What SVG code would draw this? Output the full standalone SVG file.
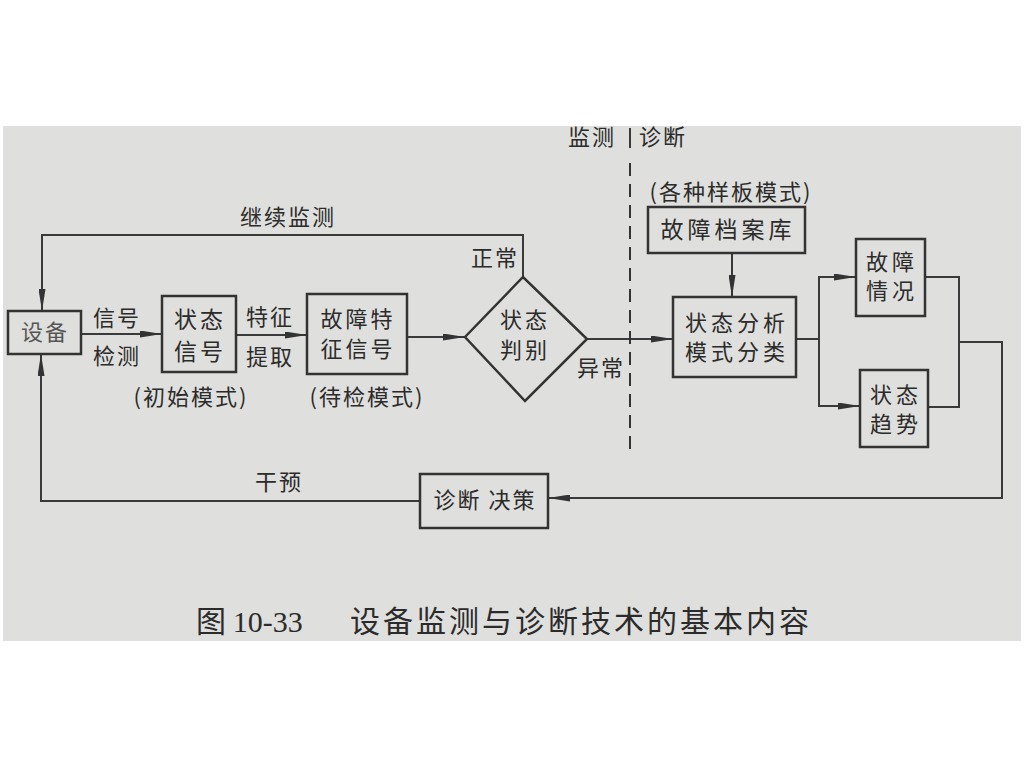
<svg xmlns="http://www.w3.org/2000/svg" width="1024" height="768" viewBox="0 0 1024 768">
<defs>
<marker id="arr" markerUnits="userSpaceOnUse" markerWidth="22" markerHeight="7" refX="22" refY="3.5" orient="auto">
<path d="M0,0 L22,3.5 L0,7 z" fill="#333"/>
</marker>
<style>
.bg{fill:#dfdfdd}
.box{fill:none;stroke:#333;stroke-width:2.5}
.ln{fill:none;stroke:#3a3a3a;stroke-width:2}
.ar{marker-end:url(#arr)}
.dash{fill:none;stroke:#333;stroke-width:2;stroke-dasharray:13 8}
text{font-family:"Noto Sans CJK SC","Noto Sans CJK JP",sans-serif;fill:#2b2b2b;text-anchor:middle}
.t{font-size:22px;letter-spacing:2px}
.tb{font-size:23px;letter-spacing:3px}
.ts{font-size:22px;letter-spacing:4px}
.lab{font-size:22px;letter-spacing:2px}
.cap{font-size:30px;text-anchor:start}
</style>
</defs>
<rect x="0" y="0" width="1024" height="768" fill="#ffffff"/>
<rect class="bg" x="3" y="126" width="1018" height="515"/>

<g id="connectors">
<path class="ln ar" d="M81,334 L162,334"/>
<path class="ln ar" d="M236,335 L307,335"/>
<path class="ln ar" d="M407,337 L465,337"/>
<path class="ln ar" d="M523,277 L523,235 L42,235 L42,311"/>
<path class="ln ar" d="M587,339 L673,339"/>
<path class="ln ar" d="M732,253 L732,297"/>
<path class="ln ar" d="M796,339 L819,339 L819,277 L856,277"/>
<path class="ln ar" d="M819,339 L819,406 L860,406"/>
<path class="ln" d="M925,277 L959,277 L959,407 L928,407"/>
<path class="ln ar" d="M959,342 L1002,342 L1002,498 L548,498"/>
<path class="ln ar" d="M420,501 L41,501 L41,354"/>
</g>

<g id="divider">
<line class="ln" x1="630" y1="128" x2="630" y2="148"/>
<line class="dash" x1="630" y1="163" x2="630" y2="456"/>
<text class="lab" x="592" y="145">监测</text>
<text class="lab" x="663" y="145">诊断</text>
</g>

<g id="node-shebei">
<rect class="box" x="8" y="311" width="73" height="43"/>
<text class="t" x="45" y="340" style="fill:#555">设备</text>
</g>
<text class="lab" x="117" y="326">信号<tspan x="117" y="364">检测</tspan></text>

<g id="node-zhuangtaixinhao">
<rect class="box" x="162" y="296" width="74" height="76"/>
<text class="tb" x="200" y="328">状态<tspan x="200" y="360">信号</tspan></text>
<text class="lab" x="191" y="405">(初始模式)</text>
</g>
<text class="lab" x="270" y="325">特征<tspan x="270" y="365">提取</tspan></text>

<g id="node-guzhangtezheng">
<rect class="box" x="307" y="294" width="100" height="80"/>
<text class="ts" x="358" y="327" style="letter-spacing:3px">故障特<tspan x="358" y="357">征信号</tspan></text>
<text class="lab" x="367" y="405">(待检模式)</text>
</g>

<g id="node-panbie">
<polygon class="box" points="465,337 523,277 587,339 525,401"/>
<text class="ts" x="525" y="328" style="letter-spacing:3px">状态<tspan x="525" y="358">判别</tspan></text>
</g>
<text class="lab" x="495" y="266">正常</text>
<text class="lab" x="601" y="376">异常</text>
<text class="lab" x="288" y="225">继续监测</text>

<g id="node-dangan">
<text class="lab" x="731" y="200">(各种样板模式)</text>
<rect class="box" x="648" y="207" width="157" height="46"/>
<text class="tb" x="728" y="238" style="letter-spacing:4px">故障档案库</text>
</g>

<g id="node-fenxi">
<rect class="box" x="673" y="297" width="123" height="80"/>
<text class="ts" x="737" y="331">状态分析<tspan x="737" y="360">模式分类</tspan></text>
</g>

<g id="node-qingkuang">
<rect class="box" x="856" y="239" width="69" height="77"/>
<text class="ts" x="892" y="270">故障<tspan x="892" y="299">情况</tspan></text>
</g>

<g id="node-qushi">
<rect class="box" x="860" y="370" width="68" height="77"/>
<text class="ts" x="896" y="403">状态<tspan x="896" y="432">趋势</tspan></text>
</g>

<g id="node-juece">
<rect class="box" x="420" y="474" width="128" height="54"/>
<text class="t" x="485" y="508">诊断 决策</text>
</g>
<text class="lab" x="279" y="490">干预</text>

<g id="caption">
<text class="cap" x="196" y="632">图 <tspan style="font-family:'Liberation Serif',serif">10-33</tspan></text>
<text class="cap" x="350" y="632" style="letter-spacing:3px">设备监测与诊断技术的基本内容</text>
</g>
</svg>
